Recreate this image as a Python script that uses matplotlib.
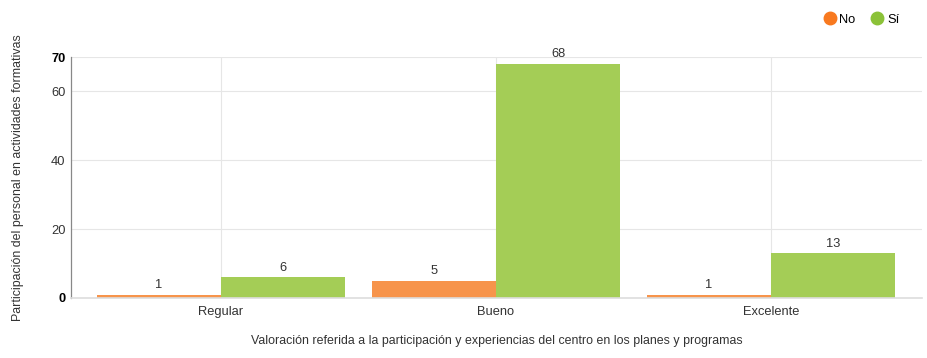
import matplotlib
matplotlib.use("Agg")
import matplotlib.pyplot as plt
import numpy as np
from matplotlib.lines import Line2D

categories = ["Regular", "Bueno", "Excelente"]
series_names = ["No", "Sí"]
no_values = [1, 5, 1]
si_values = [6, 68, 13]
yticks = [0, 20, 40, 60, 70]

plt.rcParams['font.family'] = ['Liberation Sans', 'DejaVu Sans']
FS = 8.9

fig = plt.figure(figsize=(9.27, 3.58), dpi=100)
ax = fig.add_axes([71/927, 1-298/358, (922-71)/927, (298-57)/358])

x = np.arange(len(categories))
w = 124/275
bar_colors = ['#f7944b', '#a4cd56']
b1 = ax.bar(x - w/2, no_values, w, color=bar_colors[0], zorder=2, linewidth=0)
b2 = ax.bar(x + w/2, si_values, w, color=bar_colors[1], zorder=2, linewidth=0)
for bars, vals in ((b1, no_values), (b2, si_values)):
    for r, v in zip(bars, vals):
        ax.text(r.get_x() + r.get_width()/2, v + 1.0, str(v), ha='center', va='bottom',
                fontsize=9.3, color='#333333')

ax.set_xlim(-150/275, 2 + 151/275)
ax.set_ylim(0, 70)
ax.set_yticks(yticks)
ax.set_yticklabels([str(t) for t in yticks], fontsize=9.3, color='#333333')
for lbl, t in zip(ax.get_yticklabels(), yticks):
    if t in (0, 70):
        lbl.set_fontweight('bold')
        lbl.set_color('black')
ax.set_xticks(x)
ax.set_xticklabels(categories, fontsize=9.3, color='#333333')
ax.tick_params(axis='y', length=0, pad=4)
ax.tick_params(axis='x', length=0, pad=6)
ax.grid(True, color='#e6e6e6', linewidth=0.8, zorder=0)
ax.set_axisbelow(True)
for s in ['top', 'right']:
    ax.spines[s].set_visible(False)
ax.spines['left'].set_color('#888888')
ax.spines['left'].set_linewidth(0.9)
ax.spines['bottom'].set_color('#dddddd')
ax.spines['bottom'].set_linewidth(1.2)

ax.set_xlabel("Valoración referida a la participación y experiencias del centro en los planes y programas",
              fontsize=FS, color='#333333', labelpad=12)
fig.text(18/927, 1-178/358, "Participación del personal en actividades formativas",
         rotation=90, ha='center', va='center', fontsize=FS, color='#333333')

handles = [Line2D([0], [0], marker='o', linestyle='', markersize=9, markerfacecolor=c, markeredgecolor=c)
           for c in ['#f8791f', '#8bc238']]
fig.legend(handles, series_names, loc='upper right', bbox_to_anchor=(911/927, 1-2/358), ncol=2,
           frameon=False, fontsize=9.3, handletextpad=0.15, columnspacing=1.1, handlelength=1.2)

fig.savefig("out.png", dpi=100)
